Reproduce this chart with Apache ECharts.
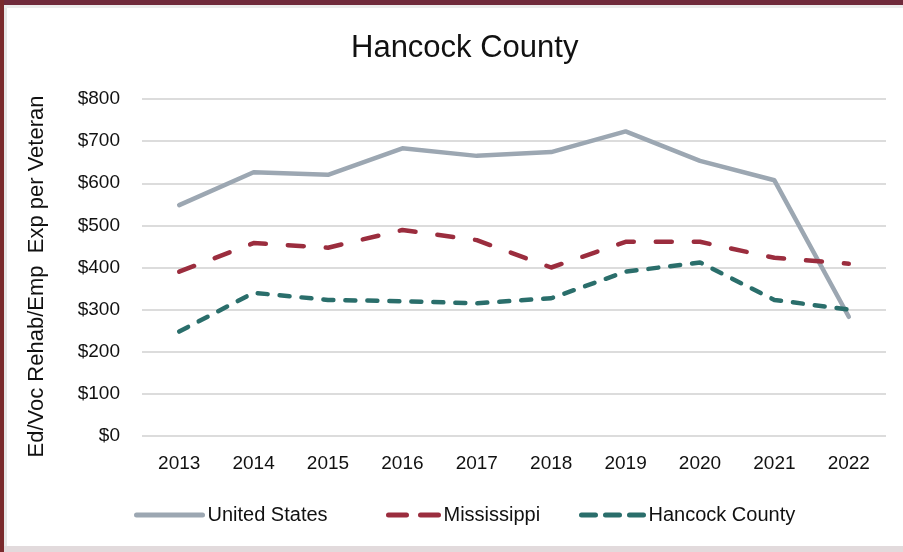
<!DOCTYPE html>
<html>
<head>
<meta charset="utf-8">
<script src="https://cdn.jsdelivr.net/npm/echarts@6/dist/echarts.min.js"></script>
<style>
html,body{margin:0;padding:0;background:#fff;}
#c{width:903px;height:552px;}
</style>
</head>
<body>
<div id="c"></div>
<script>
const years = ['2013','2014','2015','2016','2017','2018','2019','2020','2021','2022'];
const unitedStates = [548, 626, 620, 683, 665, 674, 723, 653, 607, 283];
const mississippi = [390, 458, 447, 489, 465, 400, 461, 461, 423, 409];
const hancockCounty = [248, 340, 323, 320, 315, 327, 390, 412, 323, 300];
const yTicks = [0, 100, 200, 300, 400, 500, 600, 700, 800];

const FONT = '"Liberation Sans", Arial, sans-serif';
const chart = echarts.init(document.getElementById('c'), null, {renderer: 'canvas'});
function legendFor(name, left, width, color, dash) {
  return {
    top: 500, left: left, itemWidth: width, itemHeight: 14, data: [name],
    itemStyle: {opacity: 0, borderWidth: 0},
    lineStyle: {width: 5, color: color, type: dash, cap: 'round'},
    textStyle: {fontFamily: FONT, fontSize: 20, color: '#111'}
  };
}
chart.setOption({
  animation: false,
  backgroundColor: '#ffffff',
  title: {
    text: 'Hancock County', left: 346, top: 28,
    textStyle: {fontFamily: FONT, fontSize: 31, fontWeight: 'normal', color: '#111'}
  },
  graphic: [
    {type: 'rect', shape: {x: 0, y: 0, width: 903, height: 5}, style: {fill: '#702A3B'}, silent: true},
    {type: 'rect', shape: {x: 0, y: 5, width: 903, height: 3}, style: {fill: '#ECECEC'}, silent: true},
    {type: 'rect', shape: {x: 0, y: 0, width: 4, height: 552}, style: {fill: '#7A2A2C'}, silent: true},
    {type: 'rect', shape: {x: 4, y: 8, width: 3, height: 544}, style: {fill: '#E6E6E6'}, silent: true},
    {type: 'rect', shape: {x: 4, y: 546, width: 899, height: 6}, style: {fill: '#E2DADC'}, silent: true}
  ],
  grid: {left: 142, right: 17, top: 99, bottom: 116, containLabel: false},
  xAxis: {
    type: 'category', data: years, boundaryGap: true,
    axisLine: {show: false}, axisTick: {show: false},
    axisLabel: {fontFamily: FONT, fontSize: 19, color: '#111', margin: 18}
  },
  yAxis: {
    type: 'value', min: yTicks[0], max: yTicks[yTicks.length - 1], interval: 100,
    name: 'Ed/Voc Rehab/Emp  Exp per Veteran', nameLocation: 'middle', nameGap: 94,
    nameTextStyle: {fontFamily: FONT, fontSize: 22, color: '#111', padding: [0, 18, 0, 0]},
    axisLine: {show: false}, axisTick: {show: false},
    axisLabel: {fontFamily: FONT, fontSize: 19, color: '#111', margin: 22, formatter: v => '$' + v},
    splitLine: {lineStyle: {color: '#DCDCDC', width: 2}}
  },
  legend: [
    legendFor('United States', 129, 66, '#9CA7B2', 'solid'),
    legendFor('Mississippi', 381, 50, '#9B2D3E', [18, 14]),
    legendFor('Hancock County', 574, 62, '#2A6E6B', [14, 10])
  ],
  series: [
    {name: 'United States', type: 'line', data: unitedStates, symbol: 'none',
     lineStyle: {color: '#9CA7B2', width: 4.5, cap: 'round', join: 'round'}, itemStyle: {color: '#9CA7B2'}},
    {name: 'Mississippi', type: 'line', data: mississippi, symbol: 'none',
     lineStyle: {color: '#9B2D3E', width: 4.5, type: [16, 22], cap: 'round', join: 'round'}, itemStyle: {color: '#9B2D3E'}},
    {name: 'Hancock County', type: 'line', data: hancockCounty, symbol: 'none',
     lineStyle: {color: '#2A6E6B', width: 4.5, type: [10, 12], cap: 'round', join: 'round'}, itemStyle: {color: '#2A6E6B'}}
  ]
});
</script>
</body>
</html>
